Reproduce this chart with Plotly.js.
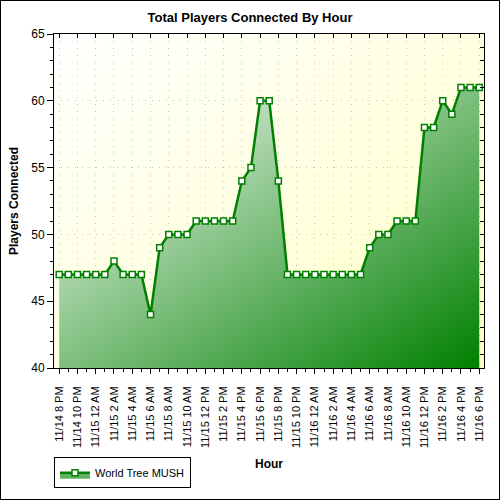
<!DOCTYPE html>
<html>
<head>
<meta charset="utf-8">
<script src="https://cdn.plot.ly/plotly-3.0.1.min.js"></script>
<style>
  html, body { margin: 0; padding: 0; background: #ffffff; }
  #wrap { position: relative; width: 500px; height: 500px; }
  #chart { position: absolute; left: 0; top: 0; width: 500px; height: 500px; }
  #frame { position: absolute; left: 0; top: 0; width: 500px; height: 500px; box-sizing: border-box; border: 1px solid #000; pointer-events: none; }
</style>
</head>
<body>
<div id="wrap"><div id="chart"></div><div id="frame"></div></div>
<script>
// ---- data ----
var hours = [
  "11/14 8 PM", "11/14 9 PM", "11/14 10 PM", "11/14 11 PM",
  "11/15 12 AM", "11/15 1 AM", "11/15 2 AM", "11/15 3 AM", "11/15 4 AM", "11/15 5 AM",
  "11/15 6 AM", "11/15 7 AM", "11/15 8 AM", "11/15 9 AM", "11/15 10 AM", "11/15 11 AM",
  "11/15 12 PM", "11/15 1 PM", "11/15 2 PM", "11/15 3 PM", "11/15 4 PM", "11/15 5 PM",
  "11/15 6 PM", "11/15 7 PM", "11/15 8 PM", "11/15 9 PM", "11/15 10 PM", "11/15 11 PM",
  "11/16 12 AM", "11/16 1 AM", "11/16 2 AM", "11/16 3 AM", "11/16 4 AM", "11/16 5 AM",
  "11/16 6 AM", "11/16 7 AM", "11/16 8 AM", "11/16 9 AM", "11/16 10 AM", "11/16 11 AM",
  "11/16 12 PM", "11/16 1 PM", "11/16 2 PM", "11/16 3 PM", "11/16 4 PM", "11/16 5 PM",
  "11/16 6 PM"
];
var players = [
  47, 47, 47, 47, 47, 47, 48, 47, 47, 47,
  44, 49, 50, 50, 50, 51, 51, 51, 51, 51,
  54, 55, 60, 60, 54, 47, 47, 47, 47, 47,
  47, 47, 47, 47, 49, 50, 50, 51, 51, 51,
  58, 58, 60, 59, 61, 61, 61
];
var tickLabels = [
  "11/14 8 PM", "11/14 10 PM", "11/15 12 AM", "11/15 2 AM", "11/15 4 AM", "11/15 6 AM",
  "11/15 8 AM", "11/15 10 AM", "11/15 12 PM", "11/15 2 PM", "11/15 4 PM", "11/15 6 PM",
  "11/15 8 PM", "11/15 10 PM", "11/16 12 AM", "11/16 2 AM", "11/16 4 AM", "11/16 6 AM",
  "11/16 8 AM", "11/16 10 AM", "11/16 12 PM", "11/16 2 PM", "11/16 4 PM", "11/16 6 PM"
];
var seriesName = "World Tree MUSH";
var yMin = 40, yMax = 65;

// ---- chart ----
var FONT = '"Liberation Sans", Arial, sans-serif';
var GREEN = '#008000';
var GRID = '#c4c4c4';
var xRange = [-0.57, hours.length - 1 + 0.52];

var main = {
  type: 'scatter', x: hours, y: players, name: seriesName,
  mode: 'lines+markers', fill: 'tozeroy', fillcolor: '#5fb35f',
  line: { color: GREEN, width: 2.5 },
  marker: { symbol: 'square', size: 6, color: '#ffffff', line: { color: GREEN, width: 1.5 } },
  hoverinfo: 'skip'
};
var ghostTopRight = {
  type: 'scatter', x: hours, y: players, xaxis: 'x2', yaxis: 'y2',
  mode: 'none', showlegend: false, hoverinfo: 'skip'
};
var ghostMinor = {
  type: 'scatter', x: hours, y: players, xaxis: 'x3', yaxis: 'y',
  mode: 'none', showlegend: false, hoverinfo: 'skip'
};

var layout = {
  width: 500, height: 500,
  margin: { l: 54, r: 16, t: 34, b: 132, pad: 0 },
  paper_bgcolor: '#ffffff',
  plot_bgcolor: '#ffffe8',
  font: { family: FONT, size: 12, color: '#000000' },
  showlegend: true,
  title: {
    text: '<b>Total Players Connected By Hour</b>',
    font: { family: FONT, size: 13, color: '#000000' },
    x: 0.5, xanchor: 'center', y: 0.966, yanchor: 'middle'
  },
  xaxis: {
    type: 'category', range: xRange,
    tickmode: 'array', tickvals: tickLabels, ticktext: tickLabels,
    tickangle: -90, tickfont: { family: FONT, size: 11, color: '#000' },
    ticklabelstandoff: 8,
    ticks: 'outside', ticklen: 5, tickwidth: 1, tickcolor: '#000',
    showline: true, linecolor: '#000', linewidth: 1, mirror: true,
    showgrid: true, gridcolor: GRID, griddash: '1px,6px', gridwidth: 1,
    zeroline: false, automargin: false,
    title: { text: '<b>Hour</b>', font: { family: FONT, size: 12, color: '#000' }, standoff: 12 }
  },
  yaxis: {
    range: [yMin, yMax], dtick: 5, tick0: 0,
    ticks: 'outside', ticklen: 6, tickwidth: 1, tickcolor: '#000',
    tickfont: { family: FONT, size: 12, color: '#000' },
    minor: { dtick: 1, ticks: 'outside', ticklen: 3, tickcolor: '#000', showgrid: false },
    showline: true, linecolor: '#000', linewidth: 1, mirror: true,
    showgrid: true, gridcolor: GRID, griddash: '1px,6px', gridwidth: 1,
    zeroline: false, automargin: false,
    title: { text: '<b>Players Connected</b>', font: { family: FONT, size: 12, color: '#000' }, standoff: 10 }
  },
  xaxis2: {
    type: 'category', range: xRange, overlaying: 'x', side: 'top', anchor: 'y2',
    tickmode: 'array', tickvals: tickLabels, showticklabels: false,
    ticks: 'inside', ticklen: 4, tickcolor: '#000',
    showline: false, showgrid: false, zeroline: false
  },
  yaxis2: {
    range: [yMin, yMax], overlaying: 'y', side: 'right', anchor: 'x2',
    dtick: 1, showticklabels: false,
    ticks: 'inside', ticklen: 4, tickcolor: '#000',
    showline: false, showgrid: false, zeroline: false
  },
  xaxis3: {
    type: 'category', range: xRange, overlaying: 'x', side: 'bottom', anchor: 'y',
    tickmode: 'array', tickvals: hours, showticklabels: false,
    ticks: 'outside', ticklen: 3, tickcolor: '#000',
    showline: false, showgrid: false, zeroline: false
  },
  legend: {
    xref: 'paper', yref: 'paper',
    x: 0, xanchor: 'left', y: -0.36, yanchor: 'bottom',
    bgcolor: '#ffffff', bordercolor: '#000000', borderwidth: 1,
    font: { family: FONT, size: 11, color: '#000' },
    itemwidth: 30
  }
};

var gd = document.getElementById('chart');
Plotly.newPlot(gd, [main, ghostTopRight, ghostMinor], layout, { staticPlot: true, displayModeBar: false })
.then(function (gd) {
  try {
    var NS = 'http://www.w3.org/2000/svg';
    var defs = gd.querySelector('svg.main-svg defs');
    function grad(id, units, c, stops) {
      var g = document.createElementNS(NS, 'linearGradient');
      g.setAttribute('id', id);
      g.setAttribute('gradientUnits', units);
      g.setAttribute('x1', c[0]); g.setAttribute('y1', c[1]);
      g.setAttribute('x2', c[2]); g.setAttribute('y2', c[3]);
      stops.forEach(function (s) {
        var st = document.createElementNS(NS, 'stop');
        st.setAttribute('offset', s[0]);
        st.setAttribute('stop-color', s[1]);
        g.appendChild(st);
      });
      defs.appendChild(g);
    }
    var xa = gd._fullLayout.xaxis, ya = gd._fullLayout.yaxis;
    var px0 = xa.l2p(0), px1 = xa.l2p(players.length - 1);
    var pyTop = ya.l2p(Math.max.apply(null, players)), pyBot = ya.l2p(yMin);
    var W = px1 - px0, H = pyBot - pyTop;
    var k = 2 / (1 / (W * W) + 1 / (H * H));
    grad('fillDiag', 'userSpaceOnUse', [px0, pyTop, px0 + k / W, pyTop + k / H],
         [['0', '#ffffff'], ['1', GREEN]]);
    grad('bgDiag', 'objectBoundingBox', [0, 0, 1, 1],
         [['0', '#ffffff'], ['1', '#ffffc4']]);
    var fillPath = gd.querySelector('path.js-fill');
    if (fillPath) fillPath.style.fill = 'url(#fillDiag)';
    var bg = gd.querySelector('.bglayer rect.bg');
    if (bg) bg.style.fill = 'url(#bgDiag)';
  } catch (e) { console.log(e); }
});
</script>
</body>
</html>
